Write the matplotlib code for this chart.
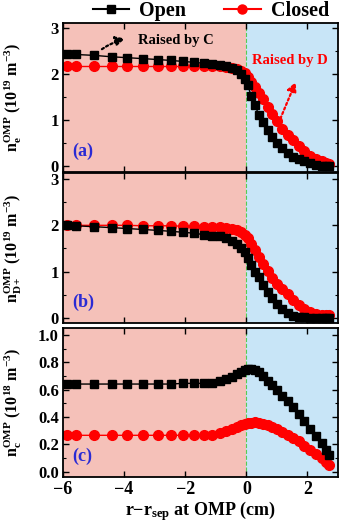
import matplotlib
matplotlib.use("Agg")
import matplotlib.pyplot as plt
from matplotlib.ticker import MultipleLocator, FormatStrFormatter

plt.rcParams['font.family'] = ['Liberation Serif', 'DejaVu Serif']
plt.rcParams['font.weight'] = 'bold'
plt.rcParams['mathtext.fontset'] = 'custom'
plt.rcParams['mathtext.rm'] = 'Liberation Serif:bold'
plt.rcParams['mathtext.it'] = 'Liberation Serif:italic:bold'
plt.rcParams['mathtext.bf'] = 'Liberation Serif:bold'
plt.rcParams['axes.unicode_minus'] = True

# ---- data ----
x = [-5.88, -5.59, -4.98, -4.41, -3.89, -3.38, -2.89, -2.46, -2.08, -1.72,
     -1.40, -1.12, -0.87, -0.65, -0.46, -0.30, -0.16, -0.05,
     0.05, 0.16, 0.28, 0.41, 0.55, 0.70, 0.85, 1.01, 1.18, 1.35, 1.53,
     1.71, 1.90, 2.09, 2.28, 2.47, 2.62, 2.70]

ne_open = [2.43, 2.42, 2.40, 2.37, 2.35, 2.33, 2.31, 2.29, 2.27, 2.25,
           2.23, 2.21, 2.19, 2.16, 2.13, 2.08, 2.00, 1.90,
           1.75, 1.52, 1.33, 1.11, 0.95, 0.78, 0.63, 0.51, 0.40, 0.30, 0.21,
           0.155, 0.11, 0.07, 0.04, 0.02, 0.01, 0.0]
ne_closed = [2.16, 2.16, 2.16, 2.16, 2.16, 2.16, 2.16, 2.16, 2.16, 2.16,
             2.16, 2.16, 2.16, 2.15, 2.13, 2.10, 2.07, 2.02,
             1.93, 1.82, 1.71, 1.59, 1.45, 1.29, 1.13, 0.98, 0.82, 0.69, 0.57,
             0.45, 0.33, 0.23, 0.16, 0.11, 0.07, 0.06]

nd_open = [2.00, 1.99, 1.97, 1.95, 1.93, 1.91, 1.89, 1.87, 1.85, 1.83,
           1.80, 1.78, 1.76, 1.72, 1.67, 1.60, 1.52, 1.43,
           1.30, 1.15, 1.00, 0.88, 0.72, 0.55, 0.42, 0.29, 0.19, 0.11, 0.05,
           0.03, 0.01, 0.0, -0.01, -0.01, -0.01, -0.01]
nd_closed = [2.00, 2.00, 2.00, 2.00, 2.00, 1.99, 1.99, 1.99, 1.98, 1.98,
             1.97, 1.97, 1.96, 1.95, 1.93, 1.90, 1.86, 1.80,
             1.72, 1.60, 1.47, 1.32, 1.17, 1.01, 0.87, 0.74, 0.63, 0.51, 0.39,
             0.28, 0.19, 0.12, 0.08, 0.07, 0.06, 0.06]

nc_open = [0.64, 0.64, 0.64, 0.64, 0.64, 0.64, 0.64, 0.64, 0.645, 0.645,
           0.645, 0.65, 0.66, 0.675, 0.695, 0.715, 0.73, 0.74,
           0.748, 0.75, 0.745, 0.725, 0.70, 0.665, 0.63, 0.595, 0.555, 0.515, 0.47,
           0.42, 0.37, 0.31, 0.26, 0.21, 0.16, 0.12]
nc_closed = [0.265, 0.265, 0.265, 0.265, 0.265, 0.265, 0.265, 0.265, 0.265, 0.265,
             0.265, 0.27, 0.28, 0.295, 0.31, 0.325, 0.337, 0.347,
             0.353, 0.358, 0.36, 0.357, 0.35, 0.338, 0.325, 0.308, 0.29, 0.27, 0.245,
             0.22, 0.19, 0.16, 0.13, 0.10, 0.07, 0.05]

panels = [
    dict(open=ne_open, closed=ne_closed, ylim=(-0.12, 3.1), major=1, minor=0.5, fmt='%d',
         label=r'$\mathrm{n_e^{OMP}}$ (10$^{\mathrm{19}}$ m$^{\mathrm{-3}}$)', tag='(a)'),
    dict(open=nd_open, closed=nd_closed, ylim=(-0.11, 3.13), major=1, minor=0.5, fmt='%d',
         label=r'$\mathrm{n_{D+}^{OMP}}$ (10$^{\mathrm{19}}$ m$^{\mathrm{-3}}$)', tag='(b)'),
    dict(open=nc_open, closed=nc_closed, ylim=(-0.04, 1.05), major=0.2, minor=0.1, fmt='%.1f',
         label=r'$\mathrm{n_c^{OMP}}$ (10$^{\mathrm{18}}$ m$^{\mathrm{-3}}$)', tag='(c)'),
]

W, H = 340, 531
fig = plt.figure(figsize=(W / 100, H / 100), dpi=100)

boxes = [(23, 172), (173, 323), (328, 477)]
pink = '#F5C1B9'
blue = '#C8E5F7'
axes = []
for (top, bot), p in zip(boxes, panels):
    ax = fig.add_axes([63 / W, 1 - bot / H, (338 - 63) / W, (bot - top) / H])
    axes.append(ax)
    ax.set_xlim(-6, 3)
    ax.set_ylim(*p['ylim'])
    ax.axvspan(-6, 0, color=pink, zorder=0, lw=0)
    ax.axvspan(0, 3, color=blue, zorder=0, lw=0)
    ax.axvline(0, color='#55cc55', ls='--', lw=0.8, zorder=1)
    ax.plot(x, p['open'], color='black', marker='s', ms=6.3, lw=1, zorder=3)
    ax.plot(x, p['closed'], color='red', marker='o', ms=7, lw=1, zorder=2)
    ax.yaxis.set_major_locator(MultipleLocator(p['major']))
    ax.yaxis.set_minor_locator(MultipleLocator(p['minor']))
    ax.yaxis.set_major_formatter(FormatStrFormatter(p['fmt']))
    ax.xaxis.set_major_locator(MultipleLocator(2))
    ax.tick_params(which='both', direction='in', top=True, right=True, labelsize=12, pad=3)
    ax.tick_params(axis='x', labelsize=13)
    ax.tick_params(which='major', length=4, width=1)
    ax.tick_params(which='minor', length=2, width=0.8)
    for s in ax.spines.values():
        s.set_linewidth(1.3)
    ax.set_ylabel(p['label'], fontsize=11.5, fontweight='bold')
    ax.yaxis.set_label_coords(-0.14, 0.5)
    ax.text(0.035, 0.14, p['tag'], transform=ax.transAxes, color='#2a2ad4',
            fontsize=13, fontweight='bold', va='center', ha='left')

for ax in axes[:2]:
    ax.tick_params(labelbottom=False)
axes[2].set_xlabel(r'r$-$r$_{\mathrm{sep}}$ at OMP (cm)', fontsize=13, fontweight='bold', labelpad=1)

# annotations in panel (a)
ax = axes[0]
ax.annotate('', xy=(-3.88, 2.78), xytext=(-4.8, 2.5),
            arrowprops=dict(arrowstyle='-|>', color='black', lw=1.6, ls=(0, (1, 1.2)),
                            connectionstyle='arc3,rad=-0.1', mutation_scale=14))
ax.text(-3.55, 2.73, 'Raised by C', fontsize=10.5, fontweight='bold', color='black',
        va='center', ha='left')
ax.annotate('', xy=(1.65, 1.88), xytext=(1.08, 0.98),
            arrowprops=dict(arrowstyle='-|>', color='red', lw=1.6, ls=(0, (1, 1.2)),
                            mutation_scale=14))
ax.text(0.2, 2.28, 'Raised by D', fontsize=10.5, fontweight='bold', color='red',
        va='center', ha='left')

# legend
h1, = axes[0].plot([], [], color='black', marker='s', ms=6, lw=1.5)
h2, = axes[0].plot([], [], color='red', marker='o', ms=6.5, lw=1.5)
fig.legend([h1, h2], ['Open', 'Closed'], loc='center', bbox_to_anchor=(0.62, 1 - 11 / H),
           ncol=2, frameon=False, prop=dict(family='Liberation Serif', weight='bold', size=14.5),
           handlelength=1.8, columnspacing=1.9, handletextpad=0.5, borderaxespad=0)

fig.savefig('out.png', dpi=100)
